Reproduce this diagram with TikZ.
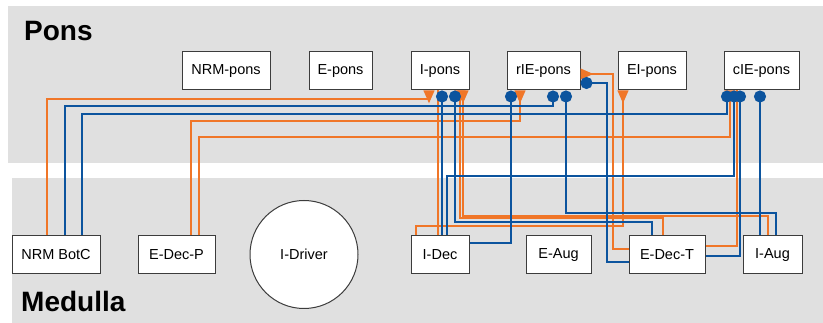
\documentclass[tikz,border=0pt]{standalone}
\usepackage{fontspec}
\setmainfont{Liberation Sans}
\usetikzlibrary{arrows.meta}
\definecolor{orng}{RGB}{240,118,40}
\definecolor{blu}{RGB}{12,84,158}
\definecolor{bg}{RGB}{224,224,224}
\definecolor{bord}{RGB}{60,60,60}
\begin{document}
\begin{tikzpicture}[x=1pt,y=-1pt,
  box/.style={draw=bord, line width=1pt, fill=white, inner sep=0pt, minimum height=38pt, font=\fontsize{14.5}{16}\selectfont},
  ex/.style={draw=orng, line width=2.3pt, -{Triangle[reversed,length=13pt,width=10.5pt]}},
  exl/.style={draw=orng, line width=2.3pt},
  inh/.style={draw=blu, line width=2.3pt, -{Circle[length=12pt,width=12pt]}},
  region/.style={fill=bg, draw=none},
  title/.style={font=\fontsize{28}{30}\selectfont\bfseries, anchor=base west, inner sep=0pt}
]
\useasboundingbox (0,0) rectangle (823,323);
\fill[region] (8,6) rectangle (823,163);
\fill[region] (12,178) rectangle (823,323);
\node[title] (pons) at (24,41) {Pons};
\node[title] (medulla) at (21,312) {Medulla};

% Pons nodes
\node[box, minimum width=88pt] (nrmpons) at (226,71) {NRM-pons};
\node[box, minimum width=63pt] (epons) at (340.5,71) {E-pons};
\node[box, minimum width=58pt] (ipons) at (440,71) {I-pons};
\node[box, minimum width=73pt] (riepons) at (543.5,71) {rIE-pons};
\node[box, minimum width=68pt] (eipons) at (652,71) {EI-pons};
\node[box, minimum width=75pt] (ciepons) at (761.5,71) {cIE-pons};

% Medulla nodes
\node[box, minimum width=88pt] (nrmbotc) at (56,255) {NRM BotC};
\node[box, minimum width=77pt] (edecp) at (176.5,255) {E-Dec-P};
\node[box, circle, minimum size=108pt] (idriver) at (304,254.5) {I-Driver};
\node[box, minimum width=58pt] (idec) at (440,255) {I-Dec};
\node[box, minimum width=65pt] (eaug) at (558.5,255) {E-Aug};
\node[box, minimum width=76pt] (edect) at (667,255) {E-Dec-T};
\node[box, minimum width=59pt] (iaug) at (772.5,255) {I-Aug};

% excitatory (orange)
\draw[ex] ([xshift=-9]nrmbotc.north) |- (429,99) -- ([xshift=-11]ipons.south);
\draw[ex] ([xshift=14.5]edecp.north) |- (520,121) -- ([xshift=-23.5]riepons.south);
\draw[ex] ([xshift=22.5]edecp.north) |- (730,137) -- ([xshift=-31.5]ciepons.south);
\draw[exl] ([xshift=-2]idec.north) -- ([xshift=-2]ipons.south);
\draw[ex] ([xshift=-24]idec.north) |- (623,226) -- ([xshift=-29]eipons.south);
\draw[ex] ([xshift=-4]edect.north) |- (460,218) -- ([xshift=20]ipons.south);
\draw[ex] ([xshift=-4.5]iaug.north) |- (463,216) -- ([xshift=23]ipons.south);
\draw[ex] ([yshift=6]edect.west) -| (613,74) -- ([yshift=-3]riepons.east);
\draw[exl] ([yshift=9]edect.east) -| ([xshift=-24.5]ciepons.south);

% inhibitory (blue)
\draw[inh] ([xshift=9]nrmbotc.north) |- (553,106) -- ([xshift=9.5]riepons.south);
\draw[inh] ([xshift=26]nrmbotc.north) |- (727,114) -- ([xshift=-34.5]ciepons.south);
\draw[inh] ([xshift=2]idec.north) -- ([xshift=2]ipons.south);
\draw[inh] ([xshift=7]idec.north) |- (734,176) -- ([xshift=-27.5]ciepons.south);
\draw[inh] ([yshift=12]idec.east) -| ([xshift=-32.5]riepons.south);
\draw[inh] ([xshift=-15]edect.north) |- (455,222) -- ([xshift=15]ipons.south);
\draw[inh] ([xshift=3.5]iaug.north) |- (566,213) -- ([xshift=22.5]riepons.south);
\draw[inh] ([xshift=-12.5]iaug.north) -- ([xshift=-1.5]ciepons.south);
\draw[inh] ([yshift=-7]edect.west) -| (607,83) -- ([yshift=-12]riepons.east);
\draw[inh] ([yshift=-1]edect.east) -| ([xshift=-21.5]ciepons.south);
\end{tikzpicture}
\end{document}
